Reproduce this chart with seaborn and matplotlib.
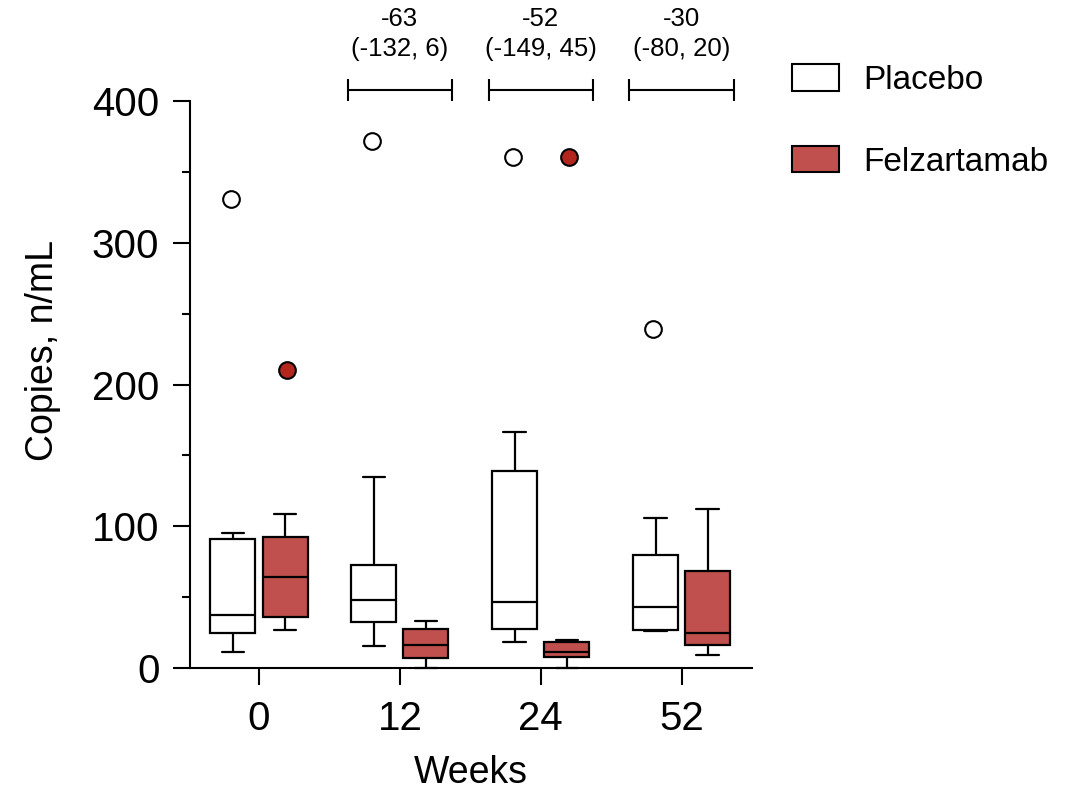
import numpy as np
import pandas as pd
import matplotlib
matplotlib.use("Agg")
import matplotlib.pyplot as plt
from matplotlib.patches import Patch
from matplotlib.ticker import MultipleLocator
import seaborn as sns

# ---------------- data ----------------
weeks = ["0", "12", "24", "52"]
groups = ["Placebo", "Felzartamab"]

# box statistics per week: whisker low, Q1, median, Q3, whisker high
placebo_low = [11, 15.5, 18, 26]
placebo_q1 = [24.5, 32.5, 27.5, 27]
placebo_med = [37.5, 48, 46.5, 43]
placebo_q3 = [91, 73, 139, 80]
placebo_high = [95, 135, 166.5, 106]

felz_low = [26.5, 0, 0, 9.5]
felz_q1 = [36, 7, 8, 16]
felz_med = [64.5, 16.5, 11.5, 25]
felz_q3 = [92.5, 27.5, 18.5, 68.5]
felz_high = [108.5, 33.5, 20, 112.5]

# outliers
placebo_out_weeks = ["0", "12", "24", "52"]
placebo_out_vals = [331, 372, 360.5, 239]
felz_out_weeks = ["0", "24"]
felz_out_vals = [210.5, 360.5]

# treatment differences (95% CI)
diff_weeks = ["12", "24", "52"]
diff_est = [-63, -52, -30]
diff_lo = [-132, -149, -80]
diff_hi = [6, 45, 20]

# ---------------- build long-form data ----------------
rows = []
for i, wk in enumerate(weeks):
    for v in (placebo_low[i], placebo_q1[i], placebo_med[i], placebo_q3[i], placebo_high[i]):
        rows.append((wk, "Placebo", v))
    for v in (felz_low[i], felz_q1[i], felz_med[i], felz_q3[i], felz_high[i]):
        rows.append((wk, "Felzartamab", v))
df = pd.DataFrame(rows, columns=["week", "group", "value"])

out_rows = [(w, "Placebo", v) for w, v in zip(placebo_out_weeks, placebo_out_vals)]
out_rows += [(w, "Felzartamab", v) for w, v in zip(felz_out_weeks, felz_out_vals)]
df_out = pd.DataFrame(out_rows, columns=["week", "group", "value"])

# ---------------- style ----------------
sns.set_style("ticks")
plt.rcParams["font.family"] = ["Liberation Sans", "DejaVu Sans"]
for key in ("text.color", "axes.labelcolor", "xtick.color", "ytick.color", "axes.edgecolor"):
    plt.rcParams[key] = "black"

RED = "#C0504D"
RED_DOT = "#B3261E"

fig = plt.figure(figsize=(10.69, 7.99), dpi=100)
ax = fig.add_axes([190 / 1069, 1 - 668 / 799, (752 - 190) / 1069, (668 - 101) / 799])

sns.boxplot(
    data=df, x="week", y="value", hue="group", order=weeks, hue_order=groups,
    palette={"Placebo": "white", "Felzartamab": RED}, saturation=1,
    width=0.74, gap=0.135, whis=(0, 100), showfliers=False,
    linecolor="black", linewidth=1.6, legend=False, ax=ax,
)
sns.stripplot(
    data=df_out, x="week", y="value", hue="group", order=weeks, hue_order=groups,
    palette={"Placebo": "white", "Felzartamab": RED_DOT},
    dodge=True, jitter=False, size=12, edgecolor="black", linewidth=1.5,
    legend=False, ax=ax, zorder=4,
)

for ln in ax.lines:
    ln.set_clip_on(False)

# treatment difference brackets
for wk, d, lo, hi in zip(diff_weeks, diff_est, diff_lo, diff_hi):
    xi = weeks.index(wk)
    ax.errorbar(xi, 408, xerr=0.37, fmt="none", ecolor="black", elinewidth=1.5,
                capsize=8, capthick=1.5, clip_on=False)
    ax.text(xi, 447.5, f"{d}\n({lo}, {hi})", ha="center", va="center",
            fontsize=18.5, linespacing=1.3, clip_on=False)

ax.set_xlim(-0.49, 3.5)
ax.set_ylim(0, 400)
ax.set_yticks([0, 100, 200, 300, 400])
ax.yaxis.set_minor_locator(MultipleLocator(50))
ax.tick_params(axis="both", which="major", length=12, width=1.5, labelsize=29, color="black")
ax.tick_params(axis="y", which="minor", length=6, width=1.5, color="black")
ax.tick_params(axis="y", which="major", pad=10)
ax.tick_params(axis="x", which="major", pad=11)
sns.despine(ax=ax)
for s in ("left", "bottom"):
    ax.spines[s].set_linewidth(1.5)
    ax.spines[s].set_color("black")

ax.set_xlabel("Weeks", fontsize=27, labelpad=12)
ax.set_ylabel("Copies, n/mL", fontsize=27, labelpad=22, y=0.56)

handles = [Patch(facecolor="white", edgecolor="black", linewidth=1.5),
           Patch(facecolor=RED, edgecolor="black", linewidth=1.5)]
fig.legend(handles, groups, loc="upper left", bbox_to_anchor=(792 / 1069, 1 - 64 / 799),
           frameon=False, fontsize=24, handlelength=1.4, handleheight=0.85,
           handletextpad=0.75, labelspacing=1.5, borderaxespad=0, borderpad=0)

fig.savefig("out.png", dpi=100)
